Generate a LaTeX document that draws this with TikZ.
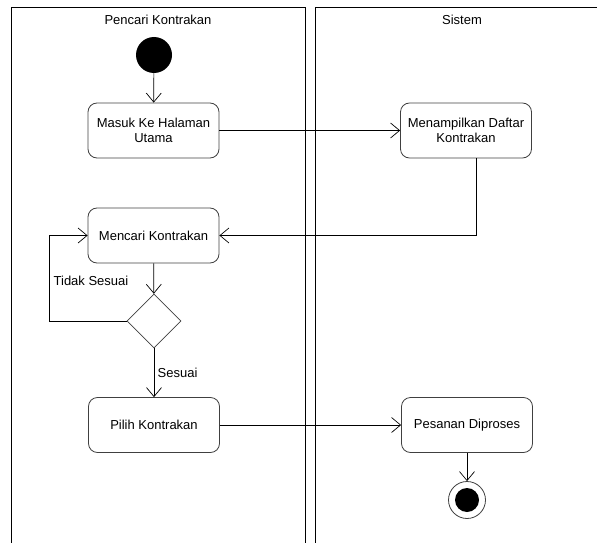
\documentclass[tikz,border=0pt]{standalone}
\usepackage{fontspec}
\setmainfont{Liberation Sans}
\usetikzlibrary{arrows.meta,shapes.geometric}

\begin{document}
\begin{tikzpicture}[x=1pt,y=-1pt,>={Straight Barb[length=9pt,width=15pt]},
    font=\fontsize{13}{15}\selectfont,
    aktivitas/.style={draw=black!75,line width=0.8pt,rounded corners=9pt,align=center,
      minimum width=131pt,minimum height=55pt,inner sep=2pt},
    keputusan/.style={diamond,draw=black!75,line width=0.8pt,aspect=1,inner sep=0pt,minimum size=54pt},
    alur/.style={->,line width=0.7pt}]

      \useasboundingbox (0,0) rectangle (597,543);

      % swimlane
      \draw[line width=1pt] (11,543) -- (11,8) -- (305,8) -- (305,543);
      \draw[line width=1pt] (315,543) -- (315,8) -- (597,8);
      \path (158,20) node (lane_pencari) {Pencari Kontrakan};
      \path (462,20) node (lane_sistem) {Sistem};

      \path (154,55) node [circle,fill=black,minimum size=36pt,inner sep=0pt] (start) {};
      \path (153.5,130.5) node [aktivitas] (masuk) {Masuk Ke Halaman\\Utama};
      \path (466,130.5) node [aktivitas] (tampil) {Menampilkan Daftar\\Kontrakan};
      \path (153.5,235.5) node [aktivitas] (mencari) {Mencari Kontrakan};
      \path (154,321) node [keputusan] (cek) {};
      \path (154,425) node [aktivitas] (pilih) {Pilih Kontrakan};
      \path (467,425) node [aktivitas] (proses) {Pesanan Diproses};
      \path (467,500) node [circle,draw=black!75,line width=0.8pt,minimum size=37pt,inner sep=0pt] (akhir) {};
      \fill (akhir) circle (12pt);
      \coordinate (belok) at (49,321);
      \path (91,281) node (lbl_tidak) {Tidak Sesuai};

      \draw[alur] (start) -- (masuk);
      \draw[alur] (masuk) -- (tampil);
      \draw[alur] ([xshift=10pt]tampil.south) |- (mencari);
      \draw[alur] (mencari) -- (cek);
      \draw[alur] (cek.west) -- (belok) |- (mencari.west);
      \draw[alur] (cek) -- node[right]{Sesuai} (pilih);
      \draw[alur] (pilih) -- (proses);
      \draw[alur] (proses) -- (akhir);

    \end{tikzpicture}
\end{document}
